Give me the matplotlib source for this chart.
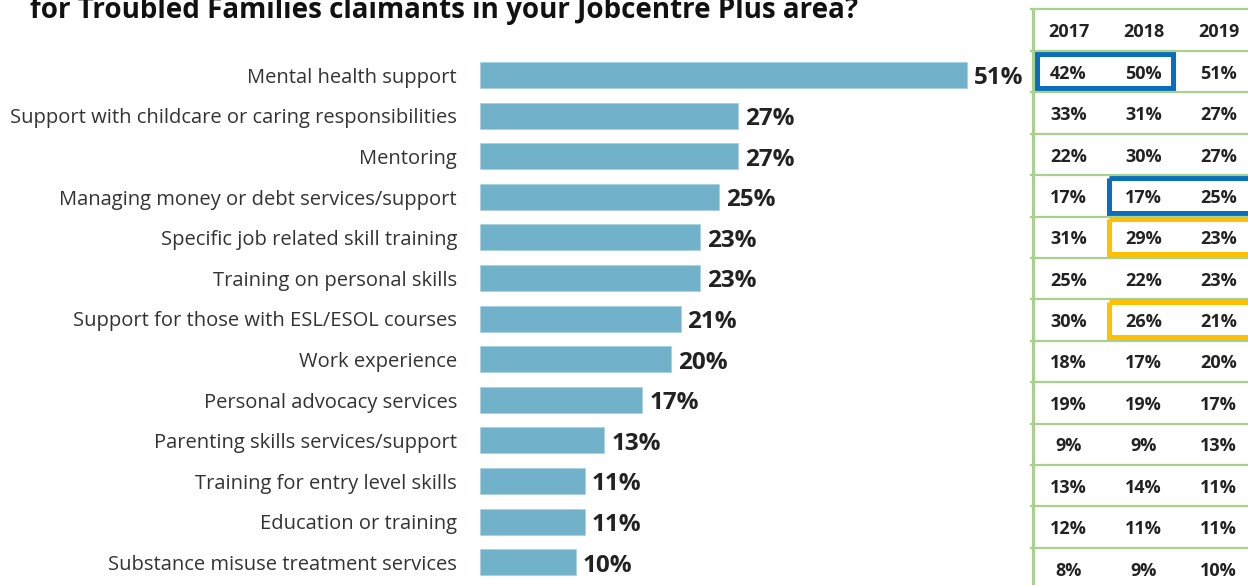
import matplotlib
matplotlib.use("Agg")
import matplotlib.pyplot as plt
from matplotlib.patches import Rectangle

# --- data -------------------------------------------------------------
categories = [
    "Mental health support",
    "Support with childcare or caring responsibilities",
    "Mentoring",
    "Managing money or debt services/support",
    "Specific job related skill training",
    "Training on personal skills",
    "Support for those with ESL/ESOL courses",
    "Work experience",
    "Personal advocacy services",
    "Parenting skills services/support",
    "Training for entry level skills",
    "Education or training",
    "Substance misuse treatment services",
]
years = ["2017", "2018", "2019"]
values_2017 = [42, 33, 22, 17, 31, 25, 30, 18, 19, 9, 13, 12, 8]
values_2018 = [50, 31, 30, 17, 29, 22, 26, 17, 19, 9, 14, 11, 9]
values_2019 = [51, 27, 27, 25, 23, 23, 21, 20, 17, 13, 11, 11, 10]
# highlighted cells: (row, first column, last column, colour)
highlights = [
    (0, 0, 1, "#0a6ebd"),
    (3, 1, 2, "#0a6ebd"),
    (4, 1, 2, "#ffc000"),
    (6, 1, 2, "#ffc000"),
]
title = "for Troubled Families claimants in your Jobcentre Plus area?"

# --- figure -----------------------------------------------------------
W, H = 1248, 585
fig = plt.figure(figsize=(W / 100, H / 100), dpi=100)
fig.patch.set_facecolor("white")

BAR = "#71b1c9"
TXT = "#222222"
GRID = "#a9d18e"

# bar chart axes, placed in pixel terms
row_h = 40.6
first_c = 75
bx0, bw = 480, 525
ax = fig.add_axes([bx0 / W, 0, bw / W, 1])
ax.set_xlim(0, bw / 9.55)
ax.set_ylim((H - first_c) / row_h, -first_c / row_h)
ax.axis("off")

ys = list(range(len(categories)))
ax.barh(ys, values_2019, height=0.64, color=BAR, edgecolor="#a8d3e2", linewidth=0.6)
for y, v, c in zip(ys, values_2019, categories):
    ax.annotate(f"{v}%", (v, y), xytext=(5, -2.5), textcoords="offset points",
                ha="left", va="center", fontsize=17.5, fontweight="bold",
                color=TXT, family="Open Sans")
    ax.annotate(c, (0, y), xytext=(-16.5, -2), textcoords="offset points",
                ha="right", va="center", fontsize=14.5,
                color="#333333", family="Open Sans", annotation_clip=False)

# title (partly above the top edge)
fig.text(30 / W, 1 - 18 / H, title, ha="left", va="baseline",
         fontsize=20, fontweight="bold", color="#111111", family="Open Sans")

# table axes in pixel units
tx0, ty0 = 1031, 9
tw = 225
hdr_h = 42
cell_h = 41.4
col_w = 75
tab = fig.add_axes([tx0 / W, 0, tw / W, (H - ty0) / H])
tab.set_xlim(0, tw)
tab.set_ylim(H - ty0, 0)
tab.axis("off")

# grid lines
tab.plot([0, tw], [0, 0], color=GRID, lw=1.6, clip_on=False)
tab.plot([2, 2], [0, H], color=GRID, lw=2.2, clip_on=False)
for i in range(len(categories) + 1):
    yl = hdr_h + i * cell_h
    tab.plot([0, tw], [yl, yl], color=GRID, lw=1.6, clip_on=False)

for j, yr in enumerate(years):
    tab.text(col_w * (j + 0.5), hdr_h / 2 + 2, yr, ha="center", va="center",
             fontsize=13, fontweight="bold", color=TXT, family="Open Sans")

table_cols = [values_2017, values_2018, values_2019]
for i in range(len(categories)):
    yc = hdr_h + (i + 0.5) * cell_h
    for j, col in enumerate(table_cols):
        tab.text(col_w * (j + 0.5), yc + 2, f"{col[i]}%", ha="center", va="center",
                 fontsize=13, fontweight="bold", color=TXT, family="Open Sans")

for r, c0, c1, colr in highlights:
    top = hdr_h + r * cell_h + 2.5
    left = c0 * col_w + (6 if c0 == 0 else 3)
    right = (c1 + 1) * col_w - (8 if c1 < 2 else -10)
    tab.add_patch(Rectangle((left, top), right - left, cell_h - 6.5,
                            fill=False, edgecolor=colr, lw=3.6, clip_on=False))

fig.savefig("out.png", dpi=100)
